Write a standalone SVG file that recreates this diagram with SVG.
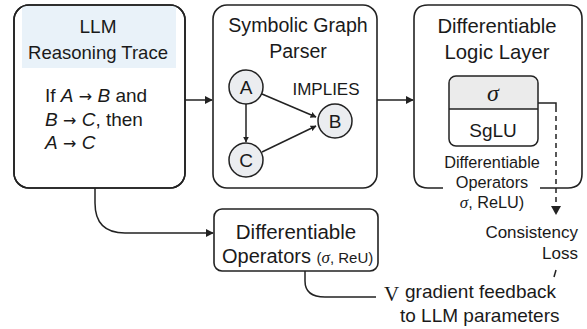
<svg xmlns="http://www.w3.org/2000/svg" width="587" height="329" viewBox="0 0 587 329">
<defs>
<style>
.box{fill:#fff;stroke:#222;stroke-width:1.6}
.t{font-family:"Liberation Sans",Arial,sans-serif;fill:#1a1a1a}
.m{font-family:"Liberation Serif","Times New Roman",serif;font-style:italic;fill:#1a1a1a}
.ar{font-family:"DejaVu Sans",sans-serif;font-style:normal}
.ln{fill:none;stroke:#222;stroke-width:1.5}
.node{fill:#ebedf0;stroke:#222;stroke-width:1.5}
</style>
<marker id="ah" viewBox="0 0 10 10" refX="9" refY="5" markerWidth="8" markerHeight="8" markerUnits="userSpaceOnUse" orient="auto">
<path d="M0,0 L10,5 L0,10 z" fill="#222"/>
</marker>
<marker id="ahs" viewBox="0 0 10 10" refX="9" refY="5" markerWidth="6" markerHeight="6" markerUnits="userSpaceOnUse" orient="auto">
<path d="M0,0 L10,5 L0,10 z" fill="#222"/>
</marker>
</defs>
<rect width="587" height="329" fill="#fff"/>

<g id="llm-trace">
<rect class="box" x="14" y="5" width="171" height="183" rx="15"/>
<path d="M22,6 H176 V68 H22 Z" fill="#e9f2f9"/>
<rect x="14" y="5" width="171" height="183" rx="15" fill="none" stroke="#222" stroke-width="1.6"/>
<text class="t" x="98" y="33" font-size="19" text-anchor="middle">LLM</text>
<text class="t" x="98" y="59" font-size="18.5" text-anchor="middle">Reasoning Trace</text>
<text class="t" x="45" y="102" font-size="19">If <tspan font-style="italic">A</tspan> <tspan class="ar" font-size="16">→</tspan> <tspan font-style="italic">B</tspan> and</text>
<text class="t" x="45" y="126" font-size="19"><tspan font-style="italic">B</tspan> <tspan class="ar" font-size="16">→</tspan> <tspan font-style="italic">C</tspan>, then</text>
<text class="t" x="45" y="149" font-size="19"><tspan font-style="italic">A</tspan> <tspan class="ar" font-size="16">→</tspan> <tspan font-style="italic">C</tspan></text>
</g>

<g id="graph-parser">
<rect class="box" x="213" y="5" width="164" height="183" rx="14"/>
<text class="t" x="298" y="32" font-size="19.6" text-anchor="middle">Symbolic Graph</text>
<text class="t" x="298" y="58" font-size="19.6" text-anchor="middle">Parser</text>
<text class="t" x="326" y="95" font-size="17" text-anchor="middle">IMPLIES</text>
<g id="node-a"><circle class="node" cx="246" cy="87" r="17"/><text class="t" x="246" y="94" font-size="19" text-anchor="middle">A</text></g>
<g id="node-c"><circle class="node" cx="246" cy="160" r="17"/><text class="t" x="246" y="167" font-size="19" text-anchor="middle">C</text></g>
<g id="node-b"><circle class="node" cx="335" cy="121" r="17"/><text class="t" x="335" y="128" font-size="19" text-anchor="middle">B</text></g>
<g id="graph-edges">
<line class="ln" x1="246" y1="104" x2="246" y2="142" marker-end="url(#ahs)"/>
<line class="ln" x1="262" y1="94" x2="316" y2="117" marker-end="url(#ahs)"/>
<line class="ln" x1="262" y1="152" x2="316" y2="126" marker-end="url(#ahs)"/>
</g>
</g>

<g id="logic-layer">
<path class="box" d="M443,188 H428 Q414,188 414,174 V19 Q414,5 428,5 H568 Q582,5 582,19 V174 Q582,188 568,188 H540" />
<text class="t" x="497" y="33" font-size="20.3" text-anchor="middle">Differentiable</text>
<text class="t" x="497" y="59" font-size="20.3" text-anchor="middle">Logic Layer</text>
<g id="sglu">
<path d="M449,109 V83 Q449,76 456,76 H531 Q538,76 538,83 V109 Z" fill="#ebebeb"/>
<rect x="449" y="76" width="89" height="70" rx="7" fill="none" stroke="#222" stroke-width="1.5"/>
<line x1="449" y1="109" x2="538" y2="109" stroke="#222" stroke-width="1.5"/>
<text class="m" x="493" y="101" font-size="24" text-anchor="middle">σ</text>
<text class="t" x="493" y="137" font-size="19" text-anchor="middle">SgLU</text>
</g>
<text class="t" x="492" y="168" font-size="16.3" text-anchor="middle">Differentiable</text>
<text class="t" x="492" y="188" font-size="16.3" text-anchor="middle">Operators</text>
<text class="t" x="492" y="208" font-size="16.3" text-anchor="middle"><tspan class="m" font-size="17">σ</tspan>, ReLU)</text>
</g>

<g id="consistency-loss">
<text class="t" x="578" y="238" font-size="17" text-anchor="end">Consistency</text>
<text class="t" x="578" y="259" font-size="17" text-anchor="end">Loss</text>
<line x1="556" y1="270" x2="554" y2="277" stroke="#222" stroke-width="1.5"/>
</g>

<g id="diff-operators">
<rect class="box" x="214" y="209" width="164" height="62" rx="8"/>
<text class="t" x="296" y="239" font-size="20.5" text-anchor="middle">Differentiable</text>
<text class="t" x="222" y="263" font-size="20">Operators <tspan font-size="15">(<tspan class="m" font-size="17">σ</tspan>, ReU)</tspan></text>
</g>

<g id="gradient-feedback">
<text x="384" y="301" font-size="21" font-family="Liberation Serif,serif" fill="#1a1a1a">V</text>
<text class="t" x="405" y="298" font-size="19">gradient feedback</text>
<text class="t" x="400" y="322" font-size="19">to LLM parameters</text>
</g>

<g id="connectors">
<line class="ln" x1="185" y1="100" x2="212" y2="100" marker-end="url(#ah)"/>
<line class="ln" x1="377" y1="100" x2="413" y2="100" marker-end="url(#ah)"/>
<path class="ln" d="M538,103 H556 V112"/>
<path class="ln" d="M556,116 V206" stroke-dasharray="5,4"/>
<path d="M551,206 L561,206 L556,215 Z" fill="#222"/>
<path class="ln" d="M95,188 V203 Q95,233 125,233 H213" marker-end="url(#ah)"/>
<path class="ln" d="M305,271 V281 Q305,297 325,297 H376"/>
</g>
</svg>
